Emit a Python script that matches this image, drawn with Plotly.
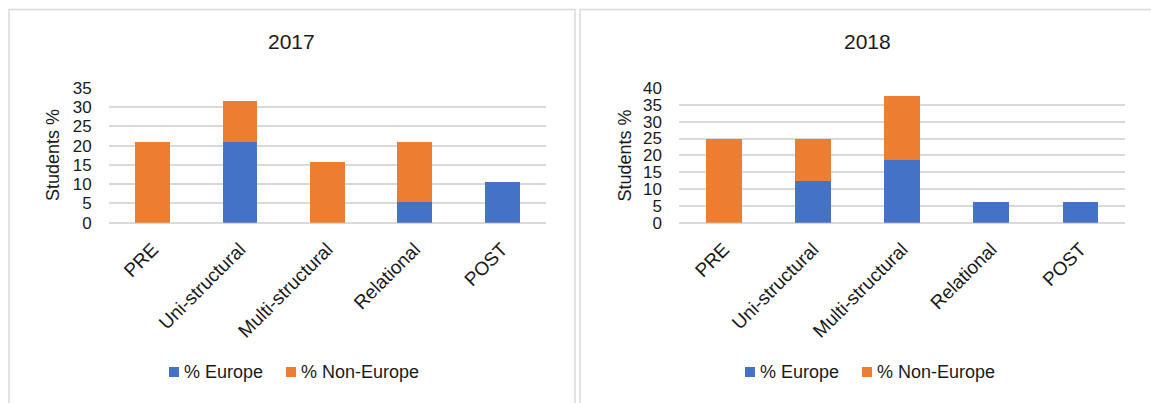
import plotly.graph_objects as go

# Categories (SOLO levels) and stacked shares per year
categories = ["PRE", "Uni-structural", "Multi-structural", "Relational", "POST"]

europe_2017 = [0, 21.05, 0, 5.26, 10.53]
non_europe_2017 = [21.05, 10.53, 15.79, 15.79, 0]

europe_2018 = [0, 12.5, 18.75, 6.25, 6.25]
non_europe_2018 = [25, 12.5, 18.75, 0, 0]

y_ticks_2017 = [0, 5, 10, 15, 20, 25, 30, 35]
y_ticks_2018 = [0, 5, 10, 15, 20, 25, 30, 35, 40]

series_names = ["% Europe", "% Non-Europe"]
titles = ["2017", "2018"]

W, H = 1151, 403
BLUE = "#4472C4"
ORANGE = "#ED7D31"
GRID = "#D9D9D9"
TEXT = "#1a1a1a"
FONT = "Liberation Sans, Arial, sans-serif"


def px(x):
    return x / W


def py(y):
    return 1 - y / H


fig = go.Figure()

fig.add_trace(go.Bar(x=categories, y=europe_2017, name=series_names[0], marker_color=BLUE,
                     xaxis="x", yaxis="y", showlegend=False))
fig.add_trace(go.Bar(x=categories, y=non_europe_2017, name=series_names[1], marker_color=ORANGE,
                     xaxis="x", yaxis="y", showlegend=False))
fig.add_trace(go.Bar(x=categories, y=europe_2018, name=series_names[0], marker_color=BLUE,
                     xaxis="x2", yaxis="y2", showlegend=False))
fig.add_trace(go.Bar(x=categories, y=non_europe_2018, name=series_names[1], marker_color=ORANGE,
                     xaxis="x2", yaxis="y2", showlegend=False))

for tr in fig.data:
    tr.marker.line.width = 0

ydom = [py(222.7), py(88)]

xaxis_common = dict(
    type="category", showgrid=False, showline=False, zeroline=False, automargin=False,
    tickangle=-45, tickfont=dict(size=19, color=TEXT, family=FONT),
    ticks="outside", ticklen=7, tickcolor="rgba(0,0,0,0)",
)
yaxis_common = dict(
    showgrid=True, gridcolor=GRID, gridwidth=1.6, automargin=False,
    zeroline=True, zerolinecolor=GRID, zerolinewidth=1.6,
    showline=False, tickfont=dict(size=17, color=TEXT, family=FONT),
    ticks="outside", ticklen=13, tickcolor="rgba(0,0,0,0)", tickmode="array",
)

fig.update_layout(
    width=W, height=H, autosize=False,
    margin=dict(l=0, r=0, t=0, b=0, pad=0, autoexpand=False),
    paper_bgcolor="white", plot_bgcolor="white",
    showlegend=False,
    barmode="stack", bargap=0.6,
    font=dict(family=FONT, color=TEXT),
    xaxis=dict(domain=[px(109), px(545.7)], anchor="y", **xaxis_common),
    yaxis=dict(domain=ydom, anchor="x", range=[0, 35], tickvals=y_ticks_2017, **yaxis_common),
    xaxis2=dict(domain=[px(679.3), px(1125)], anchor="y2", **xaxis_common),
    yaxis2=dict(domain=ydom, anchor="x2", range=[0, 40], tickvals=y_ticks_2018, **yaxis_common),
)

shapes = []
annotations = []

# Chart frames
for x0, x1 in [(9, 575), (580, 1162)]:
    shapes.append(dict(type="rect", xref="paper", yref="paper",
                       x0=px(x0), x1=px(x1), y0=py(415), y1=py(9.5),
                       line=dict(color=GRID, width=1.5), fillcolor="rgba(0,0,0,0)", layer="below"))

# Titles and y-axis titles
for title, cx, ax in zip(titles, [291.5, 867], [52.5, 624]):
    annotations.append(dict(text=title, xref="paper", yref="paper", x=px(cx), y=py(42),
                            xanchor="center", yanchor="middle", showarrow=False,
                            font=dict(size=21, color=TEXT, family=FONT)))
    annotations.append(dict(text="Students %", xref="paper", yref="paper", x=px(ax), y=py(155.5),
                            xanchor="center", yanchor="middle", showarrow=False, textangle=-90,
                            font=dict(size=18, color=TEXT, family=FONT)))

# Legends below each chart
for sq_x in [(169, 286), (745, 862)]:
    for name, color, x0 in zip(series_names, [BLUE, ORANGE], sq_x):
        shapes.append(dict(type="rect", xref="paper", yref="paper",
                           x0=px(x0), x1=px(x0 + 10), y0=py(377), y1=py(367),
                           line=dict(width=0), fillcolor=color))
        annotations.append(dict(text=name, xref="paper", yref="paper", x=px(x0 + 13), y=py(372),
                                xanchor="left", yanchor="middle", showarrow=False,
                                font=dict(size=18, color=TEXT, family=FONT)))

fig.update_layout(shapes=shapes, annotations=annotations)

fig.write_html("out.html")
